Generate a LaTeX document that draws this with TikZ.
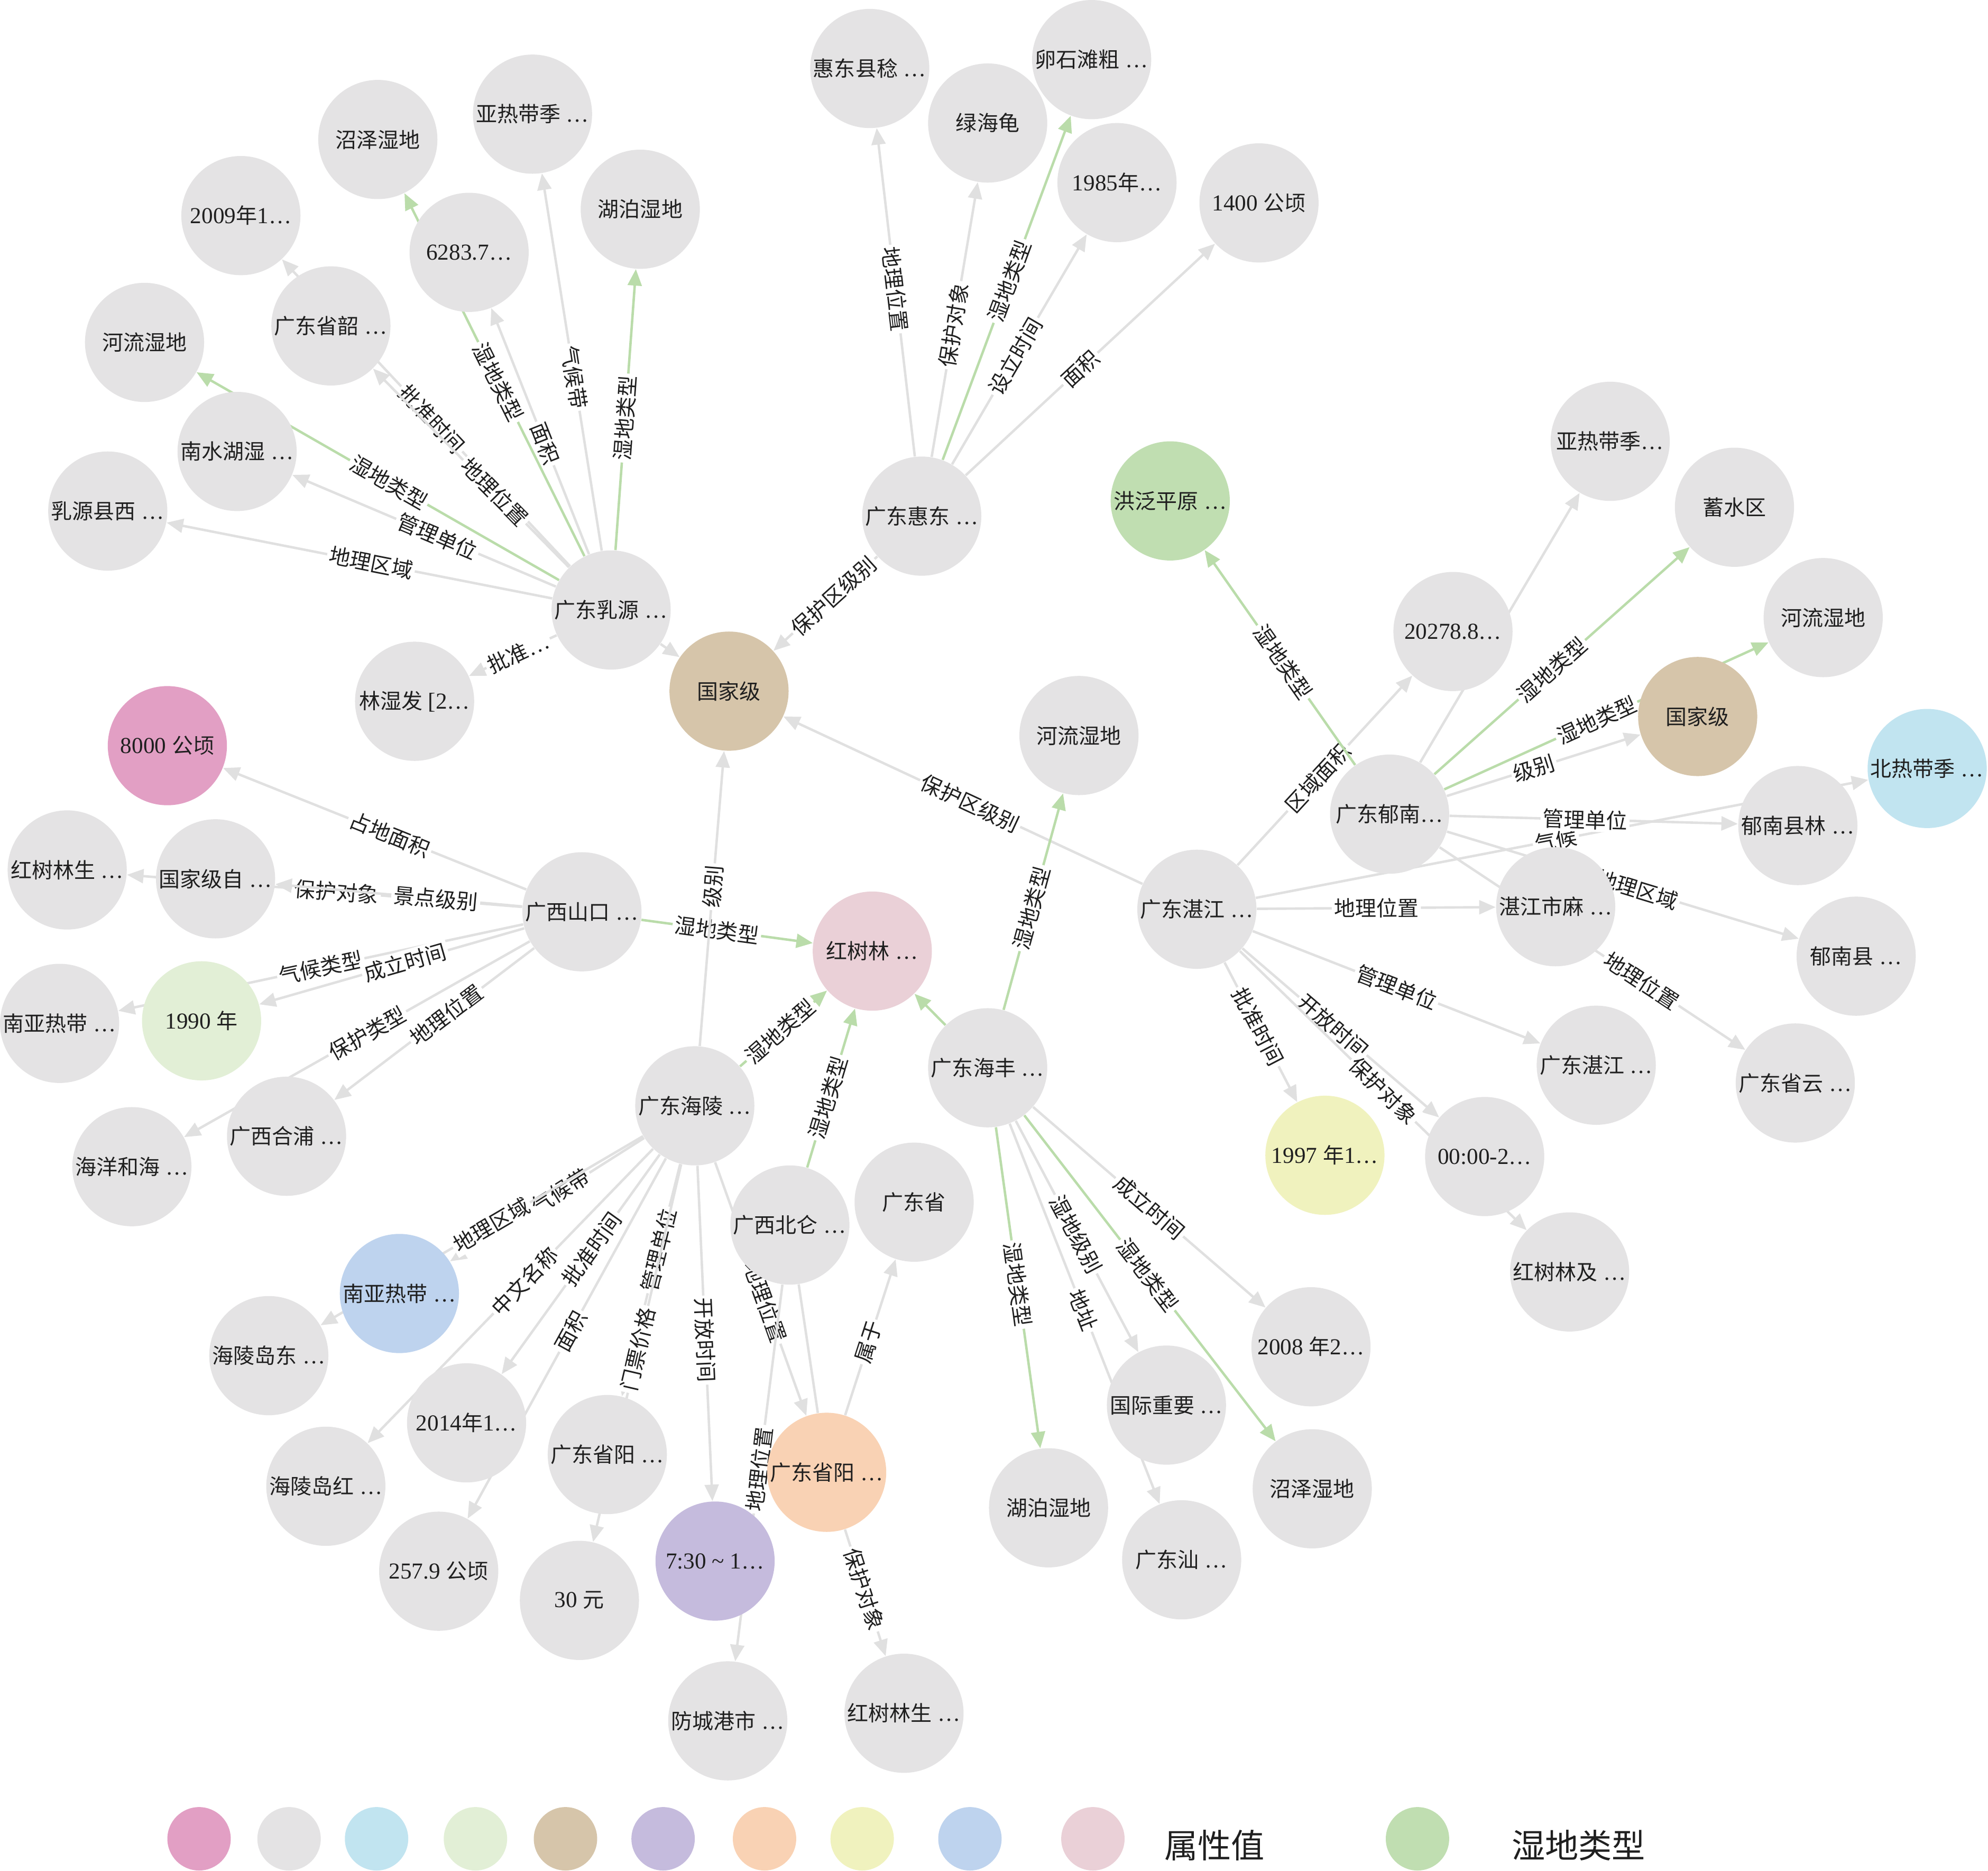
\documentclass[tikz,border=0pt]{standalone}
\usepackage{fontspec}
\setmainfont{Liberation Serif}[Scale=1.08]
\newfontfamily\cjkfont{Noto Sans CJK SC}
\usetikzlibrary{arrows.meta,backgrounds}

% han characters in the cjk font, the rest in the serif
\XeTeXinterchartokenstate=1
\newXeTeXintercharclass\cjkclass
\newcount\cjkcode
\cjkcode="4E00
\loop
  \XeTeXcharclass\cjkcode=\cjkclass\relax
  \advance\cjkcode by 1
\ifnum\cjkcode<"A000 \repeat
\XeTeXinterchartoks 0 \cjkclass={\cjkfont}
\XeTeXinterchartoks 4095 \cjkclass={\cjkfont}
\XeTeXinterchartoks \cjkclass 0={\rmfamily}
\XeTeXinterchartoks \cjkclass 4095={\rmfamily}

\definecolor{cgrey}{RGB}{228,227,228}
\definecolor{cmag}{RGB}{226,159,196}
\definecolor{csky}{RGB}{193,228,240}
\definecolor{cpale}{RGB}{226,239,214}
\definecolor{ctan}{RGB}{214,197,170}
\definecolor{clav}{RGB}{197,187,221}
\definecolor{cpeach}{RGB}{249,210,180}
\definecolor{cyel}{RGB}{240,242,190}
\definecolor{cblue}{RGB}{190,211,238}
\definecolor{cpink}{RGB}{234,208,215}
\definecolor{cgreen}{RGB}{192,222,177}
\definecolor{cline}{RGB}{224,224,224}
\definecolor{cgline}{RGB}{186,220,170}

\tikzset{
  kg/.style={circle,fill=cgrey,minimum size=1.88cm,inner sep=-0.45cm,text=black!88,
    font=\fontsize{9.5}{11}\selectfont},
  rel/.style={draw=cline,line width=1.1pt,-{Triangle[length=0.26cm,width=0.22cm]}},
  wet/.style={rel,draw=cgline},
  rlab/.style={sloped,fill=white,inner sep=1pt,text=black!88,font=\fontsize{9.5}{11}\selectfont},
}

\begin{document}
\begin{tikzpicture}[x=0.02cm,y=-0.02cm]
    \useasboundingbox (0,0) rectangle (1568,1475);

    % draw nodes
    \node[kg,fill=ctan] (gjj) at (575,545) {国家级};
    \node[kg,fill=cpink] (hsl) at (688,750) {红树林 …};
    \node[kg] (ry) at (482,481) {广东乳源 …};
    \node[kg] (hd) at (727,407) {广东惠东 …};
    \node[kg] (zj) at (944,717) {广东湛江 …};
    \node[kg] (yn) at (1096,642) {广东郁南…};
    \node[kg] (sk) at (459,719) {广西山口 …};
    \node[kg] (hl) at (548,872) {广东海陵 …};
    \node[kg] (hf) at (779,842) {广东海丰 …};
    \node[kg] (bl) at (623,966) {广西北仑 …};
    \node[kg,fill=cpeach] (yj) at (652,1161) {广东省阳 …};

    % ruyuan
    \node[kg] (ry1) at (298,110) {沼泽湿地};
    \node[kg] (ry2) at (420,90) {亚热带季 …};
    \node[kg] (ry3) at (505,165) {湖泊湿地};
    \node[kg] (ry4) at (190,170) {2009年1…};
    \node[kg] (ry5) at (370,199) {6283.7…};
    \node[kg] (ry6) at (261,257) {广东省韶 …};
    \node[kg] (ry7) at (114,270) {河流湿地};
    \node[kg] (ry8) at (187,356) {南水湖湿 …};
    \node[kg] (ry9) at (85,403) {乳源县西 …};
    \node[kg] (ry10) at (327,553) {林湿发 [2…};

    % huidong
    \node[kg] (hd1) at (686,54) {惠东县稔 …};
    \node[kg] (hd2) at (779,97) {绿海龟};
    \node[kg] (hd3) at (861,47) {卵石滩粗 …};
    \node[kg] (hd4) at (881,144) {1985年…};
    \node[kg] (hd5) at (993,160) {1400 公顷};

    % yunan
    \node[kg,fill=cgreen] (fpy) at (923,395) {洪泛平原 …};
    \node[kg] (yn1) at (1270,348) {亚热带季…};
    \node[kg] (yn2) at (1368,400) {蓄水区};
    \node[kg] (yn3) at (1438,487) {河流湿地};
    \node[kg,fill=ctan] (yn4) at (1339,565) {国家级};
    \node[kg] (yn5) at (1418,651) {郁南县林 …};
    \node[kg] (yn6) at (1464,754) {郁南县 …};
    \node[kg] (yn7) at (1416,854) {广东省云 …};

    % zhanjiang
    \node[kg] (zj1) at (1146,498) {20278.8…};
    \node[kg,fill=csky] (zj2) at (1520,606) {北热带季 …};
    \node[kg] (zj3) at (1227,715) {湛江市麻 …};
    \node[kg] (zj4) at (1259,840) {广东湛江 …};
    \node[kg] (zj5) at (1171,912) {00:00-2…};
    \node[kg] (zj6) at (1238,1003) {红树林及 …};
    \node[kg,fill=cyel] (zj7) at (1045,911) {1997 年1…};

    % shankou
    \node[kg,fill=cmag] (sk1) at (132,588) {8000 公顷};
    \node[kg] (sk2) at (53,686) {红树林生 …};
    \node[kg] (sk3) at (170,693) {国家级自 …};
    \node[kg] (sk4) at (47,807) {南亚热带 …};
    \node[kg,fill=cpale] (sk5) at (159,805) {1990 年};
    \node[kg] (sk6) at (104,920) {海洋和海 …};
    \node[kg] (sk7) at (226,896) {广西合浦 …};

    % hailing
    \node[kg,fill=cblue] (hl1) at (315,1020) {南亚热带 …};
    \node[kg] (hl2) at (212,1069) {海陵岛东 …};
    \node[kg] (hl3) at (257,1172) {海陵岛红 …};
    \node[kg] (hl4) at (368,1122) {2014年1…};
    \node[kg] (hl5) at (346,1239) {257.9 公顷};
    \node[kg] (hl6) at (479,1147) {广东省阳 …};
    \node[kg] (hl7) at (457,1262) {30 元};
    \node[kg,fill=clav] (hl8) at (564,1231) {7:30 \textasciitilde{} 1…};

    % beilun, yangjiang
    \node[kg] (bl1) at (574,1357) {防城港市 …};
    \node[kg] (yj1) at (721,948) {广东省};
    \node[kg] (yj2) at (713,1351) {红树林生 …};

    % haifeng
    \node[kg] (hf1) at (851,580) {河流湿地};
    \node[kg] (hf2) at (827,1189) {湖泊湿地};
    \node[kg] (hf3) at (920,1108) {国际重要 …};
    \node[kg] (hf4) at (932,1230) {广东汕 …};
    \node[kg] (hf5) at (1035,1174) {沼泽湿地};
    \node[kg] (hf6) at (1034,1062) {2008 年2…};

    % draw edges
    \begin{pgfonlayer}{background}
      \fill[white] (0,0) rectangle (1568,1475);
      \foreach \t/\l/\p in {ry2/气候带/0.46,ry5/面积/0.45,ry4/批准时间/0.48,ry6/地理位置/0.38,
          ry8/管理单位/0.45,ry9/地理区域/0.47,ry10/批准…/0.44}
        \draw[rel] (ry) -- node[rlab,pos=\p] {\l} (\t);
      \foreach \t/\p in {ry1/0.48,ry3/0.47,ry7/0.47}
        \draw[wet] (ry) -- node[rlab,pos=\p] {湿地类型} (\t);
      \draw[rel] (ry) -- (gjj);

      \foreach \t/\l/\p in {hd1/地理位置/0.51,hd2/保护对象/0.48,hd4/设立时间/0.47,
          hd5/面积/0.46,gjj/保护区级别/0.42}
        \draw[rel] (hd) -- node[rlab,pos=\p] {\l} (\t);
      \draw[wet] (hd) -- node[rlab,pos=0.52] {湿地类型} (hd3);

      \foreach \t/\l/\p in {zj1/区域面积/0.46,zj2/气候/0.49,zj3/地理位置/0.5,zj4/管理单位/0.5,
          zj5/开放时间/0.46,zj6/保护对象/0.5,zj7/批准时间/0.46,gjj/保护区级别/0.48}
        \draw[rel] (zj) -- node[rlab,pos=\p] {\l} (\t);

      \foreach \t/\l/\p in {yn4/级别/0.45,yn5/管理单位/0.47,yn6/地理区域/0.54,yn7/地理位置/0.66}
        \draw[rel] (yn) -- node[rlab,pos=\p] {\l} (\t);
      \draw[rel] (yn) -- (yn1);
      \foreach \t/\p in {fpy/0.48,yn2/0.46,yn3/0.47}
        \draw[wet] (yn) -- node[rlab,pos=\p] {湿地类型} (\t);

      \foreach \t/\l/\p in {sk1/占地面积/0.45,sk2/保护对象/0.47,sk3/景点级别/0.35,sk4/气候类型/0.5,
          sk5/成立时间/0.45,sk6/保护类型/0.47,sk7/地理位置/0.44}
        \draw[rel] (sk) -- node[rlab,pos=\p] {\l} (\t);
      \draw[wet] (sk) -- node[rlab,pos=0.44] {湿地类型} (hsl);

      \foreach \t/\l/\p in {gjj/级别/0.54,hl1/气候带/0.43,hl2/地理区域/0.47,hl3/中文名称/0.45,
          hl4/批准时间/0.43,hl5/面积/0.48,hl6/管理单位/0.37,hl7/门票价格/0.49,
          hl8/开放时间/0.52,yj/地理位置/0.55}
        \draw[rel] (hl) -- node[rlab,pos=\p] {\l} (\t);
      \draw[wet] (hl) -- node[rlab,pos=0.46] {湿地类型} (hsl);

      \draw[rel] (bl) -- node[rlab,pos=0.49] {地理位置} (bl1);
      \draw[draw=cline,line width=1.1pt] (bl) -- (yj);
      \draw[wet] (bl) -- node[rlab,pos=0.44] {湿地类型} (hsl);
      \draw[rel] (yj) -- node[rlab,pos=0.47] {属于} (yj1);
      \draw[rel] (yj) -- node[rlab,pos=0.47] {保护对象} (yj2);

      \foreach \t/\p in {hf1/0.47,hf2/0.49,hf5/0.49}
        \draw[wet] (hf) -- node[rlab,pos=\p] {湿地类型} (\t);
      \draw[wet] (hf) -- (hsl);
      \foreach \t/\l/\p in {hf3/湿地级别/0.49,hf4/地址/0.49,hf6/成立时间/0.5}
        \draw[rel] (hf) -- node[rlab,pos=\p] {\l} (\t);
    \end{pgfonlayer}

    % draw legend
    \foreach \x/\c in {157/cmag,228/cgrey,297/csky,375/cpale,446/ctan,523/clav,
        603/cpeach,680/cyel,765/cblue,862/cpink,1118/cgreen}
      \node[circle,fill=\c,minimum size=1cm,inner sep=0pt] (key\c) at (\x,1450) {};
    \node[font=\fontsize{15}{17}\selectfont,text=black!88] (keyattr) at (958,1455) {属性值};
    \node[font=\fontsize{15}{17}\selectfont,text=black!88] (keywet) at (1245,1455) {湿地类型};
\end{tikzpicture}
\end{document}
